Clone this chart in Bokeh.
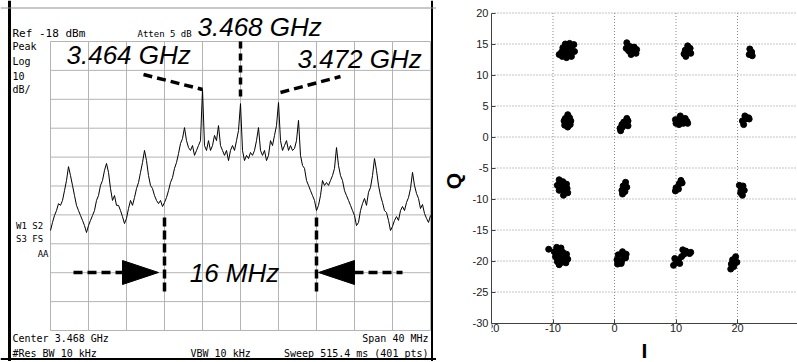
import numpy as np
from bokeh.plotting import figure
from bokeh.layouts import row
from bokeh.models import Range1d, Label, Span, FixedTicker, LinearAxis
from bokeh.embed import file_html
from bokeh.resources import INLINE

# ---------------- data: spectrum analyzer screen ----------------
center_ghz = 3.468
span_mhz = 40.0
ref_dbm = -18.0
db_per_div = 10.0
n_div = 10
marker_ghz = [3.464, 3.468, 3.472]
band_edges_ghz = [3.460, 3.476]

trace_dbm = [
    -83.4, -80.6, -78.2, -76.5, -74.1, -74.7, -73.0, -69.6, -66.1, -61.3,
    -64.4, -67.8, -71.3, -74.7, -76.5, -78.2, -79.9, -81.7, -84.1, -81.7,
    -79.9, -78.2, -76.5, -73.0, -71.3, -67.8, -66.1, -62.6, -60.2, -63.3,
    -68.9, -73.0, -71.3, -74.7, -74.7, -76.5, -78.6, -81.0, -79.2, -75.8,
    -73.0, -74.7, -72.0, -68.9, -66.8, -63.3, -59.9, -55.7, -59.2, -64.4,
    -67.8, -68.9, -71.3, -73.0, -74.1, -73.0, -75.1, -73.7, -72.0, -69.6,
    -66.8, -65.1, -61.9, -59.9, -56.8, -53.3, -51.6, -47.8, -52.3, -54.7,
    -55.7, -54.0, -57.4, -55.7, -54.0, -52.3, -34.6, -54.0, -55.7, -52.3,
    -55.7, -54.0, -50.5, -52.3, -47.1, -54.0, -55.7, -57.4, -55.7, -59.2,
    -55.7, -54.0, -55.7, -52.3, -48.8, -39.5, -55.7, -59.2, -57.4, -58.5,
    -56.4, -57.4, -55.7, -52.3, -47.8, -55.7, -57.4, -55.7, -59.2, -57.4,
    -52.3, -54.0, -50.5, -47.1, -39.1, -52.3, -55.7, -54.0, -52.3, -55.7,
    -54.0, -55.7, -55.0, -52.3, -45.3, -57.4, -60.9, -61.9, -66.1, -67.8,
    -69.6, -71.3, -73.0, -76.5, -74.7, -71.3, -66.1, -67.8, -66.8, -67.8,
    -66.1, -64.4, -61.9, -54.7, -60.9, -64.4, -66.1, -69.6, -71.3, -73.0,
    -74.7, -76.5, -78.2, -81.7, -80.6, -76.5, -74.1, -72.3, -74.7, -70.2,
    -68.5, -64.4, -58.5, -62.6, -67.8, -71.3, -73.7, -76.5, -77.2, -79.9,
    -83.4, -82.0, -79.9, -78.6, -79.9, -76.5, -75.1, -76.5, -73.7, -72.0,
    -68.9, -63.3, -67.8, -70.6, -72.3, -75.8, -74.4, -77.5, -79.2, -80.6,
    -78.2,
]

# ---------------- data: constellation ----------------
sym_i = [
    -8.5, -7.8, -7.0, -8.6, -7.9, -7.2, -6.5, -8.4, -7.7, -7.0, -6.6, -8.0, -9.0, -7.3,
    2.0, 2.5, 3.2, 3.6, 2.3, 3.0, 2.7, 3.5, 1.9,
    11.6, 12.0, 11.5, 12.3, 11.9, 11.3, 12.4,
    21.9, 22.3, 22.0, 22.4,
    -7.6, -7.3, -8.0, -7.7, -8.1, -7.2, -7.6, -8.2, -7.1,
    1.0, 1.3, 1.8, 2.2, 1.5, 2.0, 1.2, 2.2, 0.9,
    10.0, 10.5, 11.2, 11.8, 10.3, 11.0, 11.5, 10.7, 9.9, 11.9,
    20.8, 21.3, 21.8, 21.2, 21.0, 21.9,
    -9.0, -8.4, -7.8, -9.3, -8.6, -7.7, -9.0, -8.2, -7.6, -8.3,
    1.8, 1.4, 2.0, 1.2, 1.7, 1.3,
    10.8, 10.5, 10.0, 10.4, 11.0, 9.9,
    20.3, 20.9, 20.6, 21.1, 20.5, 20.8,
    -9.4, -8.7, -9.8, -9.1, -8.4, -7.8, -9.6, -8.9, -8.2, -7.6, -9.3, -8.5, -7.9, -9.0, -10.7,
    1.3, 0.6, 1.5, 0.4, 1.2, 1.8, 0.5, 1.1, 1.9,
    9.6, 10.0, 10.4, 10.9, 11.3, 11.6, 12.2, 9.8, 10.6, 11.1, 12.4,
    19.7, 19.2, 19.9, 19.0, 19.4, 18.9,
]
sym_q = [
    13.0, 12.8, 13.0, 13.7, 13.6, 13.7, 13.8, 14.4, 14.4, 14.5, 14.9, 15.0, 13.3, 15.1,
    15.2, 14.6, 14.5, 14.1, 13.9, 13.7, 13.3, 13.5, 14.3,
    13.0, 13.6, 14.0, 14.3, 14.7, 13.4, 13.5,
    13.3, 13.7, 14.2, 13.1,
    3.6, 3.1, 3.0, 2.4, 1.9, 2.0, 1.6, 2.6, 2.6,
    1.0, 1.6, 2.0, 2.6, 2.4, 3.0, 2.0, 1.8, 1.4,
    2.2, 2.0, 2.2, 2.5, 2.8, 2.9, 3.0, 3.4, 2.8, 2.2,
    2.6, 2.9, 3.1, 3.4, 2.0, 2.9,
    -6.9, -7.2, -7.6, -7.8, -7.9, -8.3, -8.6, -8.8, -9.0, -9.4,
    -7.3, -7.9, -8.1, -8.6, -8.8, -9.2,
    -7.0, -7.6, -8.2, -8.4, -7.4, -8.7,
    -7.8, -7.9, -8.5, -8.6, -9.0, -9.4,
    -17.8, -17.9, -18.5, -18.6, -18.6, -18.9, -19.3, -19.4, -19.5, -19.7, -20.1, -20.2, -20.3, -20.6, -18.1,
    -18.5, -19.0, -19.2, -19.8, -19.9, -19.5, -20.5, -20.4, -18.9,
    -20.7, -20.2, -19.8, -19.3, -18.9, -18.4, -18.8, -19.6, -20.4, -18.2, -18.6,
    -19.3, -19.8, -20.2, -20.5, -20.9, -21.3,
]
i_ticks = [-20, -10, 0, 10, 20, 30]
i_tick_labels = ["-20", "-10", "0", "10", "20", "30"]
q_ticks = [-30, -25, -20, -15, -10, -5, 0, 5, 10, 15, 20]
q_tick_labels = ["-30", "-25", "-20", "-15", "-10", "-5", "0", "5", "10", "15", "20"]

# =============== left panel (spectrum analyzer) ===============
W1, H1 = 436, 361
GL, GR, GT, GB = 50, 430, 41, 330          # graticule box inside the figure (px)
f0 = center_ghz - span_mhz / 2000.0
f1 = center_ghz + span_mhz / 2000.0
bottom_db = ref_dbm - db_per_div * n_div
gx = (f1 - f0) / (GR - GL)
gy = (ref_dbm - bottom_db) / (GB - GT)
x_start, x_end = f0 - GL * gx, f0 + (W1 - GL) * gx
y_end, y_start = ref_dbm + GT * gy, ref_dbm - (H1 - GT) * gy


def P(px, py):
    """pixel inside the left panel -> data coordinates"""
    return (f0 + (px - GL) * gx, ref_dbm - (py - GT) * gy)


p1 = figure(width=W1, height=H1, x_range=Range1d(x_start, x_end),
            y_range=Range1d(y_start, y_end), x_axis_type=None, y_axis_type=None,
            output_backend="svg", toolbar_location=None, min_border=0)
p1.outline_line_color = None
p1.background_fill_color = "white"
p1.border_fill_color = "white"

# graticule
div_f = [f0 + k * (f1 - f0) / n_div for k in range(n_div + 1)]
div_db = [ref_dbm - k * db_per_div for k in range(n_div + 1)]
p1.segment(x0=div_f, y0=[bottom_db] * len(div_f), x1=div_f, y1=[ref_dbm] * len(div_f),
           line_color="#b4b4b4", line_width=1)
p1.segment(x0=[f0] * len(div_db), y0=div_db, x1=[f1] * len(div_db), y1=div_db,
           line_color="#b4b4b4", line_width=1)

# trace
freq_ghz = center_ghz + np.linspace(-span_mhz / 2, span_mhz / 2, len(trace_dbm)) / 1000.0
p1.line(freq_ghz, trace_dbm, line_color="black", line_width=1)

# frame of the screen
p1.add_layout(Span(location=P(9, 0)[0], dimension="height", line_color="black", line_width=3))
p1.add_layout(Span(location=P(431.5, 0)[0], dimension="height", line_color="black", line_width=2))
p1.add_layout(Span(location=P(0, 358.5)[1], dimension="width", line_color="black", line_width=2))
p1.add_layout(Span(location=P(0, 7.5)[1], dimension="width", line_color="#909090", line_width=1))

# dashed annotation lines
dash_kw = dict(line_color="black", line_width=3.5, line_dash="9 5")
for (ax, ay), (bx, by) in [((143, 74), (202, 89)), ((280, 92), (340, 76)),
                           ((73, 272), (122, 272)), ((354, 272), (402, 272))]:
    a, b = P(ax, ay), P(bx, by)
    p1.line([a[0], b[0]], [a[1], b[1]], **dash_kw)
p1.line([marker_ghz[1]] * 2, [ref_dbm, P(0, 97)[1]], line_color="black",
        line_width=3.5, line_dash="7 5")
for fe in band_edges_ghz:
    p1.line([fe, fe], [P(0, 217)[1], P(0, 292)[1]], line_color="black",
            line_width=3.5, line_dash="9 4")

# arrow heads
hl = [P(122, 260), P(158, 272), P(122, 284)]
hr = [P(354, 260), P(318, 272), P(354, 284)]
p1.patches([[q[0] for q in hl], [q[0] for q in hr]], [[q[1] for q in hl], [q[1] for q in hr]],
           fill_color="black", line_color="black")


def lab(txt, px, py, size, font="DejaVu Sans Mono", style="normal", align="left"):
    x, y = P(px, py)
    p1.add_layout(Label(x=x, y=y, text=txt, text_font=font, text_font_size=f"{size}px",
                        text_font_style=style, text_align=align, text_baseline="middle",
                        text_color="black"))


big = "Liberation Sans"
lab("3.468 GHz", 197, 26, 26, big, "italic")
lab("3.464 GHz", 66, 54, 26, big, "italic")
lab("3.472 GHz", 297, 58, 26, big, "italic")
lab("16 MHz", 234, 272, 26, big, "italic", "center")

lab("Ref -18 dBm", 12, 33, 11)
lab("Atten 5 dB", 137, 33, 9)
lab("Peak", 12, 46, 10)
lab("Log", 12, 61, 10)
lab("10", 12, 75, 10)
lab("dB/", 12, 89, 10)
lab("W1  S2", 48, 225, 9, align="right")
lab("S3  FS", 48, 238, 9, align="right")
lab("AA", 48, 253, 9, align="right")
lab("Center 3.468 GHz", 12, 338, 10)
lab("#Res BW 10 kHz", 12, 353, 10)
lab("VBW 10 kHz", 190, 353, 10)
lab("Span 40 MHz", 428, 338, 10, align="right")
lab("Sweep 515.4 ms (401 pts)", 428, 353, 10, align="right")

# =============== right panel (constellation) ===============
W2, H2 = 361, 361
BL = 55                     # left border (axis area)
px_per_i = 6.15
px_per_q = 6.2
Q_TOP_PX = 12.5             # pixel row of the top tick
i_end = i_ticks[0] + (W2 - BL) / px_per_i
q_end = q_ticks[-1] + Q_TOP_PX / px_per_q
q_start = q_end - H2 / px_per_q

p2 = figure(width=W2, height=H2, x_range=Range1d(i_ticks[0], i_end),
            y_range=Range1d(q_start, q_end), x_axis_location=None,
            output_backend="svg", toolbar_location=None,
            min_border_left=BL, min_border_right=0, min_border_top=0, min_border_bottom=0)
p2.outline_line_color = None
p2.background_fill_color = "white"
p2.border_fill_color = "white"
p2.xgrid.grid_line_color = None
p2.ygrid.grid_line_color = None

xax = LinearAxis(fixed_location=q_ticks[0], bounds=(i_ticks[0], i_ticks[-1]))
p2.add_layout(xax, "below")
yax = p2.yaxis[0]
yax.bounds = (q_ticks[0], q_ticks[-1])

for ax, ticks, labels in [(xax, i_ticks, i_tick_labels), (yax, q_ticks, q_tick_labels)]:
    ax.ticker = FixedTicker(ticks=ticks)
    ax.major_label_overrides = {t: s for t, s in zip(ticks, labels)}
    ax.minor_tick_line_color = None
    ax.major_tick_in = 4
    ax.major_tick_out = 0
    ax.axis_line_color = "#404040"
    ax.major_tick_line_color = "#404040"
    ax.major_label_text_font = "Liberation Sans"
    ax.major_label_text_font_size = "11px"
    ax.major_label_text_color = "#222222"
    ax.axis_label_text_font = "Liberation Sans"
    ax.axis_label_text_font_size = "21px"
    ax.axis_label_text_font_style = "bold"
    ax.axis_label_text_color = "black"

xax.axis_label = "I"
yax.axis_label = "Q"
xax.major_label_standoff = 1
xax.axis_label_standoff = 3
yax.major_label_standoff = 3
yax.axis_label_standoff = 5

# dotted grid
grid_kw = dict(line_color="#8a8a8a", line_dash="1 2", line_width=1)
p2.segment(x0=i_ticks[1:], y0=[q_ticks[0]] * (len(i_ticks) - 1),
           x1=i_ticks[1:], y1=[q_ticks[-1]] * (len(i_ticks) - 1), **grid_kw)
p2.segment(x0=[i_ticks[0]] * (len(q_ticks) - 1), y0=q_ticks[1:],
           x1=[i_ticks[-1]] * (len(q_ticks) - 1), y1=q_ticks[1:], **grid_kw)

p2.scatter(sym_i, sym_q, size=6, color="black", marker="circle")

layout = row(p1, p2)
open("out.html", "w").write(file_html(layout, INLINE))
